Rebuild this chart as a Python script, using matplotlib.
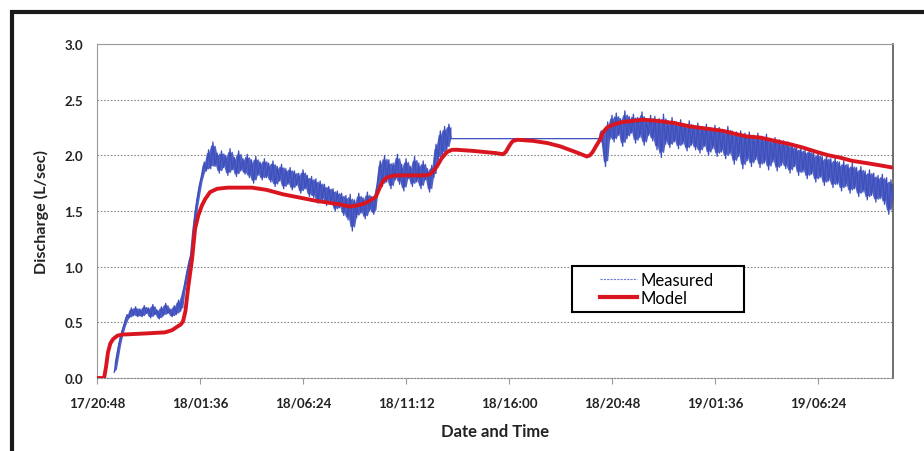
import matplotlib.pyplot as plt
import numpy as np
from matplotlib.lines import Line2D
from matplotlib.patches import Rectangle

plt.rcParams['font.family'] = ['Lato', 'DejaVu Sans']

# x axis: hours after 17/20:48, one tick every 4.8 h
tick_hours = [0, 4.8, 9.6, 14.4, 19.2, 24.0, 28.8, 33.6]
tick_labels = ['17/20:48', '18/01:36', '18/06:24', '18/11:12',
               '18/16:00', '18/20:48', '19/01:36', '19/06:24']
x_end = 37.1

# Modelled discharge (L/sec)
model_hours = [0, 0.33, 0.42, 0.51, 0.62, 0.75, 0.95, 1.17, 2.24, 3.17,
               3.5, 3.73, 3.9, 4.01, 4.12, 4.24, 4.43, 4.57, 4.72, 4.89,
               5.05, 5.27, 5.6, 6.1, 7.22, 7.9, 8.67, 10.25, 11.3, 11.79,
               12.12, 12.5, 12.86, 13.0, 13.09, 13.2, 13.33, 13.5, 13.65, 13.9,
               15.3, 15.52, 15.68, 15.84, 16.05, 16.31, 16.55, 16.78, 17.52, 18.6,
               18.92, 19.05, 19.2, 19.3, 19.39, 19.6, 20.32, 21.0, 21.6, 22.3,
               22.83, 22.97, 23.1, 23.25, 23.44, 23.6, 23.77, 24.1, 24.51, 25.0,
               25.44, 26.1, 26.9, 27.63, 28.4, 29.17, 29.8, 30.29, 30.9, 31.6,
               32.3, 32.9, 33.55, 34.1, 34.62, 35.2, 35.88, 36.5, 37.09]
model_flow = [0, 0, 0.10, 0.23, 0.31, 0.35, 0.38, 0.39, 0.40, 0.41,
              0.43, 0.46, 0.48, 0.51, 0.60, 0.80, 1.07, 1.34, 1.46, 1.55,
              1.61, 1.67, 1.70, 1.71, 1.71, 1.69, 1.65, 1.59, 1.56, 1.54,
              1.55, 1.57, 1.61, 1.63, 1.67, 1.72, 1.77, 1.80, 1.81, 1.82,
              1.82, 1.83, 1.86, 1.90, 1.97, 2.03, 2.05, 2.05, 2.04, 2.02,
              2.01, 2.03, 2.08, 2.11, 2.13, 2.14, 2.13, 2.11, 2.08, 2.03,
              1.99, 2.00, 2.03, 2.08, 2.14, 2.21, 2.25, 2.28, 2.30, 2.31,
              2.32, 2.31, 2.29, 2.26, 2.24, 2.22, 2.19, 2.17, 2.16, 2.13,
              2.10, 2.07, 2.03, 2.00, 1.98, 1.95, 1.93, 1.91, 1.89]

# Measured discharge, logged every 0.1 h; first run starts at 0.8 h
measured_start_a = 0.8
measured_a = [
    0.05, 0.16,
    0.28, 0.37, 0.44, 0.50, 0.57, 0.54, 0.63, 0.56, 0.64, 0.55,
    0.62, 0.55, 0.65, 0.58, 0.63, 0.54, 0.66, 0.57, 0.61, 0.53,
    0.64, 0.56, 0.67, 0.58, 0.62, 0.55, 0.65, 0.57, 0.70, 0.60,
    0.76, 0.85, 0.95, 1.05, 1.12, 1.35, 1.52, 1.64, 1.75, 1.83,
    1.94, 1.86, 2.05, 1.88, 2.12, 1.90, 2.02, 1.84, 2.04, 1.89,
    2.00, 1.82, 2.06, 1.87, 1.98, 1.81, 2.04, 1.86, 1.97, 1.83,
    2.01, 1.80, 1.96, 1.75, 1.99, 1.82, 1.94, 1.78, 1.97, 1.80,
    1.93, 1.76, 1.95, 1.72, 1.90, 1.77, 1.92, 1.70, 1.88, 1.74,
    1.89, 1.69, 1.86, 1.73, 1.84, 1.66, 1.87, 1.70, 1.82, 1.63,
    1.81, 1.62, 1.79, 1.57, 1.77, 1.60, 1.74, 1.55, 1.72, 1.58,
    1.70, 1.50, 1.68, 1.53, 1.66, 1.46, 1.64, 1.42, 1.65, 1.32,
    1.60, 1.44, 1.66, 1.48, 1.62, 1.43, 1.67, 1.50, 1.63, 1.47,
    1.66, 1.78, 1.95, 1.72, 2.00, 1.76, 1.96, 1.70, 1.93, 1.78,
    2.01, 1.74, 1.92, 1.68, 1.97, 1.79, 1.90, 1.72, 1.99, 1.76,
    1.93, 1.70, 1.95, 1.78, 1.88, 1.67, 1.91, 1.80, 2.10, 1.96,
    2.22, 2.00, 2.26, 2.05, 2.28, 2.15,
]
# second run after the logger gap
measured_start_b = 23.4
measured_b = [
    2.15, 2.22, 2.10, 1.90, 2.30, 2.14,
    2.36, 2.12, 2.38, 2.18, 2.33, 2.08, 2.40, 2.15, 2.35, 2.20,
    2.37, 2.11, 2.34, 2.16, 2.39, 2.09, 2.32, 2.18, 2.36, 2.13,
    2.35, 2.05, 2.33, 1.98, 2.37, 2.10, 2.31, 2.07, 2.34, 2.12,
    2.30, 2.06, 2.32, 2.10, 2.28, 2.04, 2.31, 2.09, 2.27, 2.05,
    2.29, 2.02, 2.26, 2.08, 2.28, 2.00, 2.25, 2.06, 2.27, 1.99,
    2.25, 2.03, 2.23, 1.97, 2.26, 2.01, 2.22, 1.92, 2.21, 1.99,
    2.22, 1.88, 2.20, 1.95, 2.21, 1.90, 2.18, 1.96, 2.20, 1.89,
    2.17, 1.93, 2.19, 1.87, 2.15, 1.94, 2.16, 1.86, 2.14, 1.91,
    2.13, 1.88, 2.12, 1.84, 2.10, 1.90, 2.08, 1.82, 2.07, 1.85,
    2.05, 1.79, 2.06, 1.83, 2.02, 1.76, 2.03, 1.80, 1.99, 1.73,
    2.00, 1.77, 1.97, 1.71, 1.98, 1.74, 1.94, 1.68, 1.95, 1.72,
    1.92, 1.66, 1.93, 1.70, 1.89, 1.63, 1.90, 1.67, 1.86, 1.60,
    1.87, 1.64, 1.84, 1.58, 1.82, 1.61, 1.83, 1.56, 1.80, 1.47,
    1.78, 1.60,
]

BLUE = '#3d4fbd'
RED = '#d9161f'

t_a = measured_start_a + 0.1 * np.arange(len(measured_a))
t_b = measured_start_b + 0.1 * np.arange(len(measured_b))
meas_t = np.concatenate([t_a, t_b])
meas_q = np.concatenate([measured_a, measured_b])


def spread(q, shrink=0.75):
    # local min/max over neighbouring readings, pulled a little toward the middle
    q = np.asarray(q, dtype=float)
    p = np.pad(q, 1, mode='edge')
    win = np.vstack([p[:-2], p[1:-1], p[2:]])
    mid = win.mean(axis=0)
    return mid + shrink * (win.min(axis=0) - mid), mid + shrink * (win.max(axis=0) - mid)


fig = plt.figure(figsize=(9.24, 4.52), dpi=100)
ax = fig.add_axes([0.105, 0.1615, 0.8615, 0.7389])

# dense scatter of the logger readings
for t, q in [(t_a, measured_a), (t_b, measured_b)]:
    lo, hi = spread(q)
    ax.fill_between(t, lo, hi, color=BLUE, lw=0, alpha=0.9, zorder=2)
ax.plot(meas_t, meas_q, color=BLUE, lw=0.9, label='Measured', zorder=3)
ax.plot(model_hours, model_flow, color=RED, lw=2.8, label='Model',
        zorder=4, solid_joinstyle='round', solid_capstyle='round')

ax.set_xlim(0, x_end)
ax.set_ylim(0, 3.0)
ax.set_yticks(np.arange(0, 3.01, 0.5))
ax.set_yticklabels([f'{v:.1f}' for v in np.arange(0, 3.01, 0.5)])
ax.set_xticks(tick_hours)
ax.set_xticklabels(tick_labels)

for lab in ax.get_xticklabels() + ax.get_yticklabels():
    lab.set_fontweight('bold')
    lab.set_fontsize(9.6)
    lab.set_color('#222222')

ax.tick_params(axis='x', length=4, color='#999999', pad=9)
ax.tick_params(axis='y', length=0, pad=10)

ax.yaxis.grid(True, color='#8a8a8a', linestyle=(0, (1.5, 1.5)), lw=0.8)
ax.set_axisbelow(True)

ax.spines['left'].set_color('#999999')
ax.spines['top'].set_color('#999999')
ax.spines['right'].set_color('#555555')
ax.spines['right'].set_linewidth(1.2)
ax.spines['bottom'].set_color('#8a8a8a')
ax.spines['bottom'].set_linestyle((0, (1.5, 1.5)))

ax.set_ylabel('Discharge (L/sec)', fontsize=11.6, fontweight='bold',
              color='#222222', labelpad=11)
ax.set_xlabel('Date and Time', fontsize=12, fontweight='bold',
              color='#222222', labelpad=11)

# legend: frame drawn separately so it can be wider than the entries
ax.add_patch(Rectangle((0.5967, 0.1976), 0.2161, 0.1377, transform=ax.transAxes,
                       fill=True, facecolor='white', edgecolor='black',
                       lw=1.5, zorder=5))
handles = [Line2D([], [], color='#6f7fd6', lw=0.8, linestyle=(0, (2, 1))),
           Line2D([], [], color=RED, lw=3)]
leg = ax.legend(handles, ['Measured', 'Model'], loc='center',
                bbox_to_anchor=(0.703, 0.2665), frameon=False, fontsize=12,
                handlelength=2.2, handletextpad=0.2, labelspacing=0.15,
                borderpad=0.2)
leg.set_zorder(6)

# outer border of the panel
fig.add_artist(Rectangle((0.0125, -0.2), 1.5, 1.171, transform=fig.transFigure,
                         fill=False, edgecolor='#1a1a1a', lw=3))

fig.savefig('out.png', dpi=100)
